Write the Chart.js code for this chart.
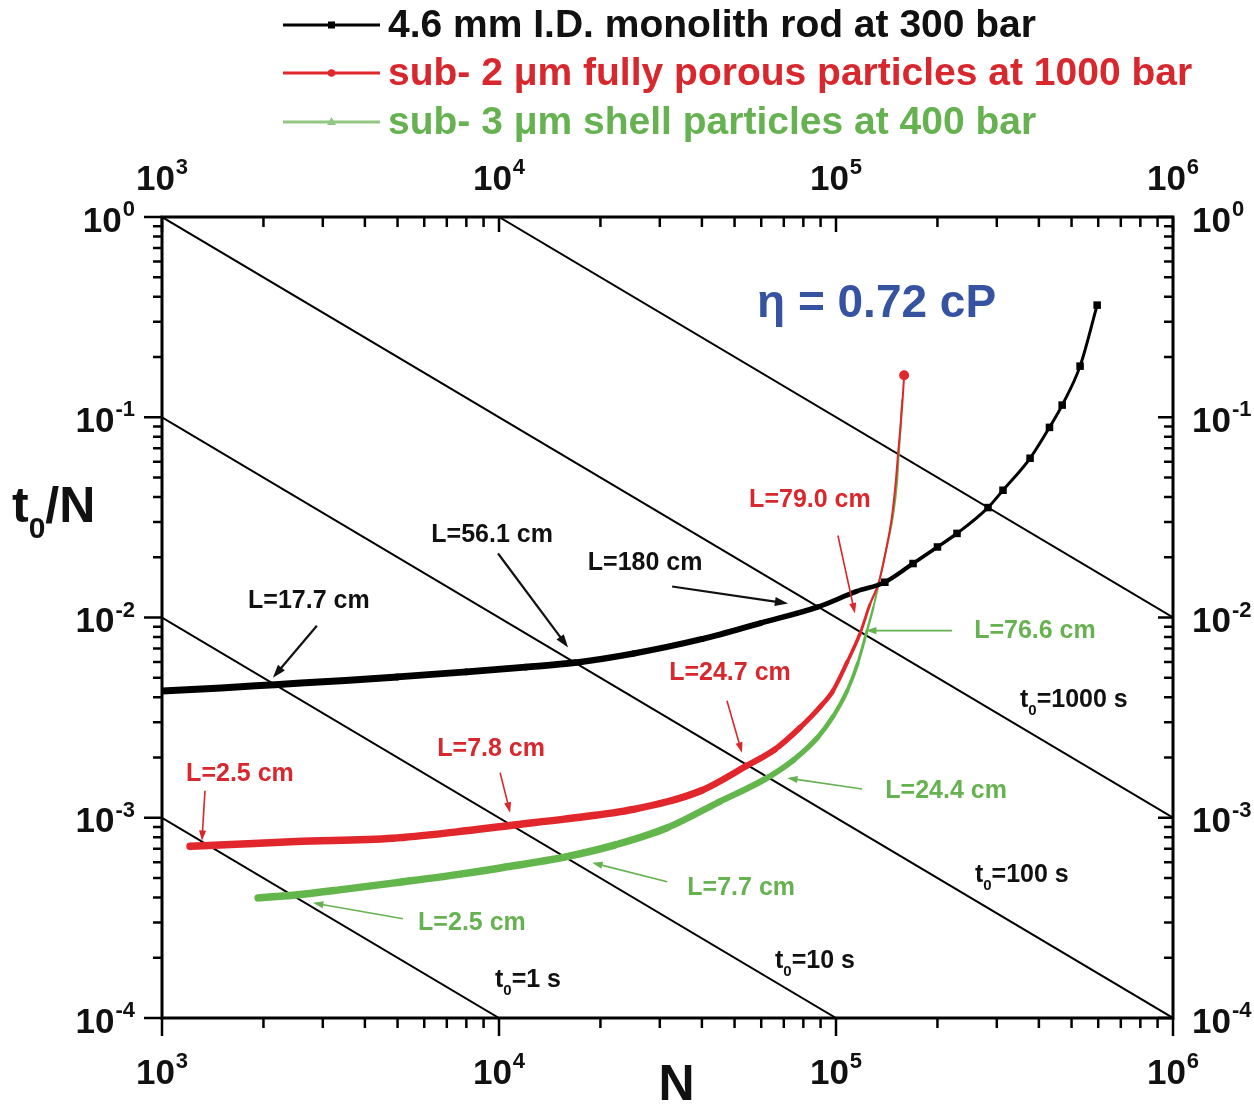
<!DOCTYPE html>
<html>
<head>
<meta charset="utf-8">
<script src="https://cdn.jsdelivr.net/npm/chart.js@4.4.1/dist/chart.umd.min.js"></script>
<style>
  html, body { margin: 0; padding: 0; background: #fff; }
  #wrap { width: 1254px; height: 1107px; position: relative; }
</style>
</head>
<body>
<div id="wrap"><canvas id="kinetic" width="1254" height="1107"></canvas></div>
<script>
// ---- series: plate number N and t0/N (s) ----
const monolithN = [1000, 1500, 2163, 3500, 5000, 8000, 12000, 16810, 25000, 40000, 60000, 88500, 115000, 139600, 169300, 200000, 228600, 282500, 313000, 376600, 430000, 469000, 530000, 595600];
const monolithT0N = [4.30e-3, 4.45e-3, 4.62e-3, 4.85e-3, 5.05e-3, 5.35e-3, 5.65e-3, 5.95e-3, 6.6e-3, 7.8e-3, 9.4e-3, 1.13e-2, 1.35e-2, 1.50e-2, 1.86e-2, 2.25e-2, 2.63e-2, 3.54e-2, 4.32e-2, 6.24e-2, 8.9e-2, 0.115, 0.18, 0.363];

const sub2N = [1211, 1600, 2500, 4840, 7500, 10790, 16000, 25000, 40000, 54400, 66000, 78200, 90000, 97900, 108000, 117800, 126000, 134000, 141000, 146600, 150500, 152700, 155500, 157500, 159300];
const sub2T0N = [7.2e-4, 7.35e-4, 7.6e-4, 7.9e-4, 8.5e-4, 9.15e-4, 9.9e-4, 1.1e-3, 1.37e-3, 1.82e-3, 2.2e-3, 2.82e-3, 3.6e-3, 4.3e-3, 6.0e-3, 8.3e-3, 1.16e-2, 1.5e-2, 2.2e-2, 3.2e-2, 4.8e-2, 6.5e-2, 9.1e-2, 0.12, 0.162];

const shellN = [1928, 2440, 3500, 5000, 7500, 10000, 15900, 22000, 31500, 45000, 62400, 75000, 87900, 98000, 107900, 116000, 123600, 129000, 134500, 141000, 147500, 151500, 153500, 155500, 157000];
const shellT0N = [3.98e-4, 4.1e-4, 4.4e-4, 4.75e-4, 5.2e-4, 5.6e-4, 6.4e-4, 7.3e-4, 8.9e-4, 1.2e-3, 1.58e-3, 1.95e-3, 2.5e-3, 3.2e-3, 4.3e-3, 5.9e-3, 8.6e-3, 1.12e-2, 1.52e-2, 2.2e-2, 3.2e-2, 4.6e-2, 6.5e-2, 9.0e-2, 0.122];

const seriesLabels = [
  '4.6 mm I.D. monolith rod at 300 bar',
  'sub- 2 \u03bcm fully porous particles at 1000 bar',
  'sub- 3 \u03bcm shell particles at 400 bar'
];

// ---- constant-t0 guide lines (t0/N = t0 / N) ----
const isoTimes = [1, 10, 100, 1000, 10000];
const isoNStart = [1e3, 1e3, 1e3, 1e3, 1e4];
const isoNEnd = [1e4, 1e5, 1e6, 1e6, 1e6];
const isoLabels = ['1 s', '10 s', '100 s', '1000 s', null];
const isoLabelN = [9730, 65900, 258300, 351600, null];
const isoLabelY = [1.43e-4, 1.78e-4, 4.79e-4, 3.59e-3, null];

// ---- axis ticks ----
const xTickValues = [1e3, 1e4, 1e5, 1e6];
const xTickExp = ['3', '4', '5', '6'];
const yTickValues = [1e-4, 1e-3, 1e-2, 1e-1, 1];
const yTickExp = ['-4', '-3', '-2', '-1', '0'];

// ---- column length call-outs: arrow tip at (N, t0/N) ----
const calloutText = ['L=17.7 cm', 'L=56.1 cm', 'L=180 cm', 'L=79.0 cm', 'L=24.7 cm', 'L=7.8 cm', 'L=2.5 cm', 'L=76.6 cm', 'L=24.4 cm', 'L=7.7 cm', 'L=2.5 cm'];
const calloutSeries = [0, 0, 0, 1, 1, 1, 1, 2, 2, 2, 2];
const calloutN = [2133, 16030, 72100, 113800, 52600, 10790, 1314, 122700, 71600, 18900, 2805];
const calloutY = [5.0e-3, 7.08e-3, 1.175e-2, 1.047e-2, 2.11e-3, 1.06e-3, 7.67e-4, 8.6e-3, 1.58e-3, 5.96e-4, 3.76e-4];

const FONT = '"Liberation Sans", Arial, Helvetica, sans-serif';
const COLORS = ['#000000', '#e1262c', '#63b64c'];
const TEXT_COLORS = ['#111111', '#d8282e', '#66b251'];

// offsets (px) of arrow tail and text centre from the arrow tip
const calloutLayout = [
  { tail: [44, -52], text: [36, -77] },
  { tail: [-70, -94], text: [-76, -112] },
  { tail: [-116, -17], text: [-143, -40] },
  { tail: [-17, -78], text: [-45, -113] },
  { tail: [-15, -52], text: [-12, -80] },
  { tail: [-10, -40], text: [-19, -64] },
  { tail: [3, -50], text: [38, -67] },
  { tail: [86, 0], text: [169, 0] },
  { tail: [75, 11], text: [159, 13] },
  { tail: [75, 19], text: [149, 25] },
  { tail: [90, 16], text: [159, 20] }
];

function pts(xs, ys) { return xs.map((v, i) => ({ x: v, y: ys[i] })); }

// line gets thinner as t0/N grows (points thin out along the curve)
function taper(yLo, wLo, yHi, wHi) {
  const a = Math.log10(yLo), b = Math.log10(yHi);
  return ctx => {
    const v = Math.log10(Math.sqrt(ctx.p0.parsed.y * ctx.p1.parsed.y));
    const t = Math.min(1, Math.max(0, (v - a) / (b - a)));
    return wLo + (wHi - wLo) * t;
  };
}

const isoDatasets = isoTimes.map((t, i) => ({
  label: 't0=' + t,
  data: [{ x: isoNStart[i], y: t / isoNStart[i] }, { x: isoNEnd[i], y: t / isoNEnd[i] }],
  borderColor: '#000',
  borderWidth: 2,
  pointRadius: 0,
  tension: 0,
  order: 10
}));

const curveDatasets = [
  {
    label: seriesLabels[0],
    data: pts(monolithN, monolithT0N),
    borderColor: COLORS[0], backgroundColor: COLORS[0],
    borderWidth: 4, borderCapStyle: 'round', borderJoinStyle: 'round',
    cubicInterpolationMode: 'monotone',
    pointStyle: 'rect',
    pointRadius: c => (c.raw && c.raw.y > 0.014 ? 2.5 : 0),
    segment: { borderWidth: taper(5e-3, 7, 3e-2, 3) },
    order: 1
  },
  {
    label: seriesLabels[1],
    data: pts(sub2N, sub2T0N),
    borderColor: COLORS[1], backgroundColor: COLORS[1],
    borderWidth: 4, borderCapStyle: 'round', borderJoinStyle: 'round',
    cubicInterpolationMode: 'monotone',
    pointStyle: 'circle',
    pointRadius: c => (c.raw && c.raw.y > 0.15 ? 3 : 0),
    segment: { borderWidth: taper(1e-3, 7.5, 1.5e-2, 2) },
    order: 2
  },
  {
    label: seriesLabels[2],
    data: pts(shellN, shellT0N),
    borderColor: COLORS[2], backgroundColor: COLORS[2],
    borderWidth: 4, borderCapStyle: 'round', borderJoinStyle: 'round',
    cubicInterpolationMode: 'monotone',
    pointStyle: 'triangle',
    pointRadius: 0,
    segment: { borderWidth: taper(7e-4, 7.5, 1.2e-2, 2) },
    order: 3
  }
];

function drawPow(ctx, exp, x, cy, align) {
  const big = 35, small = 22;
  ctx.font = `bold ${big}px ${FONT}`;
  const wb = ctx.measureText('10').width;
  ctx.font = `bold ${small}px ${FONT}`;
  const we = ctx.measureText(exp).width;
  const total = wb + we + 1;
  const x0 = align === 'center' ? x - total / 2 : align === 'right' ? x - total : x;
  ctx.textAlign = 'left';
  ctx.textBaseline = 'alphabetic';
  ctx.font = `bold ${big}px ${FONT}`;
  ctx.fillText('10', x0, cy + 12.5);
  ctx.font = `bold ${small}px ${FONT}`;
  ctx.fillText(exp, x0 + wb + 1, cy - 3);
}

function drawArrow(ctx, x1, y1, x2, y2, color, w, head) {
  const ang = Math.atan2(y2 - y1, x2 - x1);
  ctx.strokeStyle = color; ctx.fillStyle = color; ctx.lineWidth = w;
  ctx.beginPath();
  ctx.moveTo(x1, y1);
  ctx.lineTo(x2 - Math.cos(ang) * head * 0.7, y2 - Math.sin(ang) * head * 0.7);
  ctx.stroke();
  ctx.beginPath();
  ctx.moveTo(x2, y2);
  ctx.lineTo(x2 - head * Math.cos(ang - 0.33), y2 - head * Math.sin(ang - 0.33));
  ctx.lineTo(x2 - head * Math.cos(ang + 0.33), y2 - head * Math.sin(ang + 0.33));
  ctx.closePath();
  ctx.fill();
}

// t + subscript 0 + rest, starting at x with baseline y
function drawT0(ctx, rest, x, y, size, color) {
  ctx.fillStyle = color;
  ctx.textAlign = 'left';
  ctx.textBaseline = 'alphabetic';
  ctx.font = `bold ${size}px ${FONT}`;
  ctx.fillText('t', x, y);
  const wt = ctx.measureText('t').width;
  ctx.font = `bold ${Math.round(size * 0.6)}px ${FONT}`;
  ctx.fillText('0', x + wt, y + size * 0.32);
  const w0 = ctx.measureText('0').width;
  ctx.font = `bold ${size}px ${FONT}`;
  ctx.fillText(rest, x + wt + w0, y);
}

const decor = {
  id: 'decor',
  afterDatasetsDraw(chart) {
    const { ctx, chartArea: a, scales } = chart;
    const xs = scales.x, ys = scales.y;
    ctx.save();

    // frame
    ctx.strokeStyle = '#000';
    ctx.lineWidth = 3;
    ctx.strokeRect(a.left, a.top, a.right - a.left, a.bottom - a.top);

    // tick marks
    ctx.lineWidth = 2.5;
    ctx.beginPath();
    const xMinor = [], yMinor = [];
    for (let k = 3; k < 6; k++) for (let m = 2; m <= 9; m++) xMinor.push(m * Math.pow(10, k));
    for (let k = -4; k < 0; k++) for (let m = 2; m <= 9; m++) yMinor.push(m * Math.pow(10, k));
    xTickValues.forEach(v => {
      const px = xs.getPixelForValue(v);
      ctx.moveTo(px, a.bottom); ctx.lineTo(px, a.bottom + 18);
      ctx.moveTo(px, a.top); ctx.lineTo(px, a.top + 15);
    });
    xMinor.forEach(v => {
      const px = xs.getPixelForValue(v);
      ctx.moveTo(px, a.bottom); ctx.lineTo(px, a.bottom + 10);
      ctx.moveTo(px, a.top); ctx.lineTo(px, a.top + 10);
    });
    yTickValues.forEach(v => {
      const py = ys.getPixelForValue(v);
      ctx.moveTo(a.left, py); ctx.lineTo(a.left - 18, py);
      ctx.moveTo(a.right, py); ctx.lineTo(a.right - 15, py);
    });
    yMinor.forEach(v => {
      const py = ys.getPixelForValue(v);
      ctx.moveTo(a.left, py); ctx.lineTo(a.left - 9, py);
      ctx.moveTo(a.right, py); ctx.lineTo(a.right - 9, py);
    });
    ctx.stroke();

    // tick labels on all four sides
    ctx.fillStyle = '#111';
    xTickValues.forEach((v, i) => {
      const px = xs.getPixelForValue(v);
      drawPow(ctx, xTickExp[i], px, a.bottom + 53, 'center');
      drawPow(ctx, xTickExp[i], px, a.top - 40, 'center');
    });
    yTickValues.forEach((v, i) => {
      const py = ys.getPixelForValue(v);
      drawPow(ctx, yTickExp[i], a.left - 27, py + 2, 'right');
      drawPow(ctx, yTickExp[i], a.right + 19, py + 2, 'left');
    });

    // axis titles
    ctx.fillStyle = '#111';
    ctx.font = `bold 50px ${FONT}`;
    ctx.textAlign = 'center';
    ctx.textBaseline = 'alphabetic';
    ctx.fillText('N', (a.left + a.right) / 2 + 9, 1100);
    drawT0(ctx, '/N', 12, 522, 50, '#111');

    // viscosity note
    ctx.fillStyle = '#3553a0';
    ctx.font = `bold 46px ${FONT}`;
    ctx.textAlign = 'left';
    ctx.fillText('\u03b7 = 0.72 cP', 757, 317);

    // t0 labels along the guide lines
    isoLabels.forEach((lab, i) => {
      if (!lab) return;
      drawT0(ctx, '=' + lab, xs.getPixelForValue(isoLabelN[i]), ys.getPixelForValue(isoLabelY[i]), 25, '#111');
    });

    // column length call-outs
    calloutText.forEach((txt, i) => {
      const s = calloutSeries[i];
      const tx = xs.getPixelForValue(calloutN[i]);
      const ty = ys.getPixelForValue(calloutY[i]);
      const lay = calloutLayout[i];
      const col = TEXT_COLORS[s];
      drawArrow(ctx, tx + lay.tail[0], ty + lay.tail[1], tx, ty, col, s === 0 ? 2.2 : 1.6, s === 0 ? 14 : 11);
      ctx.fillStyle = col;
      ctx.font = `bold 25px ${FONT}`;
      ctx.textAlign = 'center';
      ctx.textBaseline = 'middle';
      ctx.fillText(txt, tx + lay.text[0], ty + lay.text[1]);
    });

    // legend
    const rowY = [25, 73, 122];
    curveDatasets.forEach((ds, i) => {
      const y = rowY[i];
      const lineCol = i === 2 ? '#93c784' : COLORS[i];
      ctx.strokeStyle = lineCol;
      ctx.fillStyle = lineCol;
      ctx.lineWidth = 3;
      ctx.beginPath(); ctx.moveTo(283, y); ctx.lineTo(380, y); ctx.stroke();
      ctx.beginPath();
      if (i === 0) ctx.rect(328, y - 3.5, 7, 7);
      else if (i === 1) ctx.arc(331.5, y, 3.8, 0, Math.PI * 2);
      else { ctx.moveTo(331.5, y - 5); ctx.lineTo(336, y + 3); ctx.lineTo(327, y + 3); ctx.closePath(); }
      ctx.fill();
      ctx.fillStyle = TEXT_COLORS[i];
      ctx.font = `bold 39px ${FONT}`;
      ctx.textAlign = 'left';
      ctx.textBaseline = 'middle';
      ctx.fillText(ds.label, 388, y + 1);
    });

    ctx.restore();
  }
};

new Chart(document.getElementById('kinetic'), {
  type: 'line',
  data: { datasets: [...curveDatasets, ...isoDatasets] },
  options: {
    responsive: false,
    animation: false,
    layout: { padding: { left: 162, right: 81, top: 217, bottom: 89 } },
    scales: {
      x: { type: 'logarithmic', min: 1e3, max: 1e6, display: false },
      y: { type: 'logarithmic', min: 1e-4, max: 1, display: false }
    },
    plugins: { legend: { display: false }, tooltip: { enabled: false } },
    elements: { line: { fill: false } }
  },
  plugins: [decor]
});
</script>
</body>
</html>
